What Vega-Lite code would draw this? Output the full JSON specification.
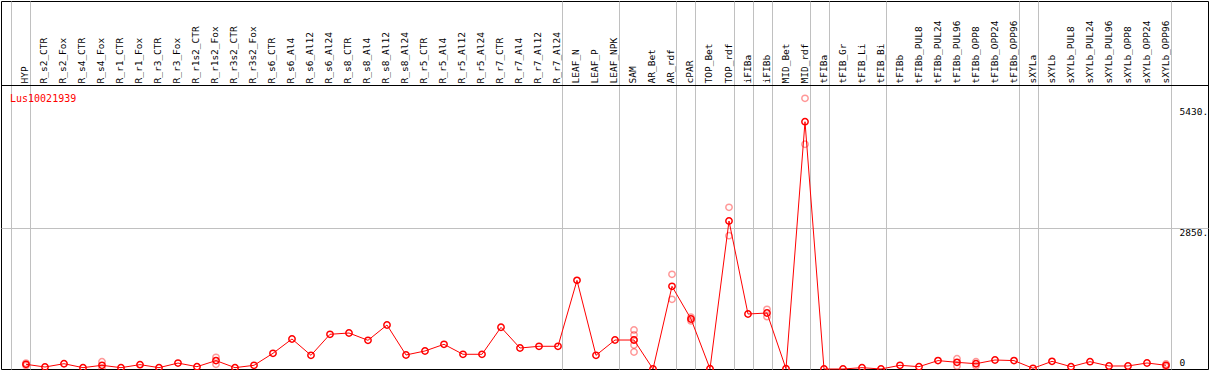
{
  "$schema": "https://vega.github.io/schema/vega-lite/v6.json",
  "width": 1207,
  "height": 368,
  "autosize": "none",
  "padding": {"left": 1, "top": 1, "right": 1, "bottom": 1},
  "background": "white",
  "title": {"text": "Lus10021939", "anchor": "start", "frame": "group", "orient": "top", "offset": -108, "baseline": "middle", "dx": 9, "color": "#ff0000", "font": "DejaVu Sans Mono", "fontSize": 10, "fontWeight": "normal"},
  "config": {"view": {"stroke": "black", "strokeWidth": 1}},
  "datasets": {
    "means": [
      {"sample": "HYP", "value": 95},
      {"sample": "R_s2_CTR", "value": 40},
      {"sample": "R_s2_Fox", "value": 107},
      {"sample": "R_s4_CTR", "value": 27},
      {"sample": "R_s4_Fox", "value": 75},
      {"sample": "R_r1_CTR", "value": 27},
      {"sample": "R_r1_Fox", "value": 88},
      {"sample": "R_r3_CTR", "value": 27},
      {"sample": "R_r3_Fox", "value": 120},
      {"sample": "R_r1s2_CTR", "value": 47},
      {"sample": "R_r1s2_Fox", "value": 170},
      {"sample": "R_r3s2_CTR", "value": 27},
      {"sample": "R_r3s2_Fox", "value": 75},
      {"sample": "R_s6_CTR", "value": 318},
      {"sample": "R_s6_Al4", "value": 608},
      {"sample": "R_s6_Al12", "value": 277},
      {"sample": "R_s6_Al24", "value": 703},
      {"sample": "R_s8_CTR", "value": 729},
      {"sample": "R_s8_Al4", "value": 581},
      {"sample": "R_s8_Al12", "value": 891},
      {"sample": "R_s8_Al24", "value": 284},
      {"sample": "R_r5_CTR", "value": 365},
      {"sample": "R_r5_Al4", "value": 500},
      {"sample": "R_r5_Al12", "value": 298},
      {"sample": "R_r5_Al24", "value": 298},
      {"sample": "R_r7_CTR", "value": 845},
      {"sample": "R_r7_Al4", "value": 425},
      {"sample": "R_r7_Al12", "value": 460},
      {"sample": "R_r7_Al24", "value": 460},
      {"sample": "LEAF_N", "value": 1796},
      {"sample": "LEAF_P", "value": 277},
      {"sample": "LEAF_NPK", "value": 587},
      {"sample": "SAM", "value": 587},
      {"sample": "AR_Bet", "value": 0},
      {"sample": "AR_rdf", "value": 1675},
      {"sample": "cPAR", "value": 1013},
      {"sample": "TOP_Bet", "value": 5},
      {"sample": "TOP_rdf", "value": 2998},
      {"sample": "iFIBa", "value": 1114},
      {"sample": "iFIBb", "value": 1134},
      {"sample": "MID_Bet", "value": 5},
      {"sample": "MID_rdf", "value": 5009},
      {"sample": "tFIBa", "value": 0},
      {"sample": "tFIB_Gr", "value": 0},
      {"sample": "tFIB_Li", "value": 27},
      {"sample": "tFIB_Bi", "value": 0},
      {"sample": "tFIBb", "value": 75},
      {"sample": "tFIBb_PUL8", "value": 47},
      {"sample": "tFIBb_PUL24", "value": 170},
      {"sample": "tFIBb_PUL96", "value": 135},
      {"sample": "tFIBb_OPP8", "value": 107},
      {"sample": "tFIBb_OPP24", "value": 182},
      {"sample": "tFIBb_OPP96", "value": 170},
      {"sample": "sXYLa", "value": 14},
      {"sample": "sXYLb", "value": 155},
      {"sample": "sXYLb_PUL8", "value": 47},
      {"sample": "sXYLb_PUL24", "value": 148},
      {"sample": "sXYLb_PUL96", "value": 61},
      {"sample": "sXYLb_OPP8", "value": 61},
      {"sample": "sXYLb_OPP24", "value": 122},
      {"sample": "sXYLb_OPP96", "value": 75}
    ],
    "reps": [
      {"sample": "HYP", "value": 120},
      {"sample": "HYP", "value": 70},
      {"sample": "R_s4_Fox", "value": 148},
      {"sample": "R_s4_Fox", "value": 2},
      {"sample": "R_r1s2_Fox", "value": 237},
      {"sample": "R_r1s2_Fox", "value": 95},
      {"sample": "SAM", "value": 790},
      {"sample": "SAM", "value": 689},
      {"sample": "SAM", "value": 587},
      {"sample": "SAM", "value": 486},
      {"sample": "SAM", "value": 344},
      {"sample": "AR_rdf", "value": 1918},
      {"sample": "AR_rdf", "value": 1412},
      {"sample": "cPAR", "value": 1050},
      {"sample": "cPAR", "value": 975},
      {"sample": "TOP_rdf", "value": 3275},
      {"sample": "TOP_rdf", "value": 2700},
      {"sample": "iFIBb", "value": 1209},
      {"sample": "iFIBb", "value": 1060},
      {"sample": "MID_rdf", "value": 5483},
      {"sample": "MID_rdf", "value": 4552},
      {"sample": "tFIBb_PUL96", "value": 209},
      {"sample": "tFIBb_PUL96", "value": 61},
      {"sample": "tFIBb_OPP8", "value": 148},
      {"sample": "tFIBb_OPP8", "value": 66},
      {"sample": "sXYLb_OPP96", "value": 101},
      {"sample": "sXYLb_OPP96", "value": 49}
    ]
  },
  "encoding": {
    "x": {
      "field": "sample",
      "type": "ordinal",
      "sort": ["HYP","R_s2_CTR","R_s2_Fox","R_s4_CTR","R_s4_Fox","R_r1_CTR","R_r1_Fox","R_r3_CTR","R_r3_Fox","R_r1s2_CTR","R_r1s2_Fox","R_r3s2_CTR","R_r3s2_Fox","R_s6_CTR","R_s6_Al4","R_s6_Al12","R_s6_Al24","R_s8_CTR","R_s8_Al4","R_s8_Al12","R_s8_Al24","R_r5_CTR","R_r5_Al4","R_r5_Al12","R_r5_Al24","R_r7_CTR","R_r7_Al4","R_r7_Al12","R_r7_Al24","LEAF_N","LEAF_P","LEAF_NPK","SAM","AR_Bet","AR_rdf","cPAR","TOP_Bet","TOP_rdf","iFIBa","iFIBb","MID_Bet","MID_rdf","tFIBa","tFIB_Gr","tFIB_Li","tFIB_Bi","tFIBb","tFIBb_PUL8","tFIBb_PUL24","tFIBb_PUL96","tFIBb_OPP8","tFIBb_OPP24","tFIBb_OPP96","sXYLa","sXYLb","sXYLb_PUL8","sXYLb_PUL24","sXYLb_PUL96","sXYLb_OPP8","sXYLb_OPP24","sXYLb_OPP96"],
      "scale": {
        "type": "point",
        "padding": 0.263,
        "align": 0.6,
        "domain": [" ","HYP","R_s2_CTR","R_s2_Fox","R_s4_CTR","R_s4_Fox","R_r1_CTR","R_r1_Fox","R_r3_CTR","R_r3_Fox","R_r1s2_CTR","R_r1s2_Fox","R_r3s2_CTR","R_r3s2_Fox","R_s6_CTR","R_s6_Al4","R_s6_Al12","R_s6_Al24","R_s8_CTR","R_s8_Al4","R_s8_Al12","R_s8_Al24","R_r5_CTR","R_r5_Al4","R_r5_Al12","R_r5_Al24","R_r7_CTR","R_r7_Al4","R_r7_Al12","R_r7_Al24","LEAF_N","LEAF_P","LEAF_NPK","SAM","AR_Bet","AR_rdf","cPAR","TOP_Bet","TOP_rdf","iFIBa","iFIBb","MID_Bet","MID_rdf","tFIBa","tFIB_Gr","tFIB_Li","tFIB_Bi","tFIBb","tFIBb_PUL8","tFIBb_PUL24","tFIBb_PUL96","tFIBb_OPP8","tFIBb_OPP24","tFIBb_OPP96","sXYLa","sXYLb","sXYLb_PUL8","sXYLb_PUL24","sXYLb_PUL96","sXYLb_OPP8","sXYLb_OPP24","sXYLb_OPP96","  ","   "]
      },
      "axis": {
        "orient": "top",
        "offset": -84,
        "title": null,
        "labelAngle": -90,
        "labelAlign": "left",
        "labelBaseline": "middle",
        "labelPadding": 2,
        "labelFont": "DejaVu Sans Mono",
        "labelFontSize": 9.5,
        "labelColor": "black",
        "labelOffset": -5.5,
        "labelOverlap": false,
        "labelBound": false,
        "labelFlush": false,
        "tickOffset": 4.5,
        "ticks": false,
        "tickSize": 0,
        "domain": true,
        "domainColor": "black",
        "domainWidth": 1,
        "grid": true,
        "gridColor": "#c0c0c0",
        "gridWidth": 1,
        "gridOpacity": {"condition": {"test": "indexof([' ','HYP','R_r7_Al24','LEAF_NPK','AR_rdf','cPAR','TOP_rdf','iFIBa','iFIBb','MID_rdf','tFIBa','tFIB_Bi','tFIBb_OPP96','sXYLa','sXYLb_OPP96'], datum.value) >= 0", "value": 1}, "value": 0}
      }
    }
  },
  "layer": [
    {
      "data": {"name": "means"},
      "mark": {"type": "line", "color": "#ff0000", "strokeWidth": 1},
      "encoding": {
        "y": {
          "field": "value",
          "type": "quantitative",
          "scale": {"domain": [0, 7454], "nice": false, "zero": true},
          "axis": {
            "orient": "right",
            "values": [0, 2850, 5430],
            "title": null,
            "domain": false,
            "ticks": false,
            "tickSize": 0,
            "labelPadding": -29,
            "labelAlign": "left",
            "labelBaseline": "top",
            "labelOffset": {"condition": [{"test": "datum.value === 5430", "value": 5.5}, {"test": "datum.value === 0", "value": -11.5}], "value": -0.5},
            "labelExpr": "datum.value === 0 ? '0' : datum.value + '.'",
            "labelFont": "DejaVu Sans Mono",
            "labelFontSize": 9.5,
            "labelColor": "black",
            "labelBound": false,
            "labelFlush": false,
            "labelOverlap": false,
            "grid": true,
            "gridColor": "#c0c0c0",
            "gridWidth": 1,
            "gridOpacity": {"condition": {"test": "datum.value === 2850", "value": 1}, "value": 0}
          }
        }
      }
    },
    {
      "data": {"name": "reps"},
      "mark": {"type": "point", "shape": "circle", "filled": false, "color": "#ff0000", "opacity": 0.4, "size": 40, "strokeWidth": 1.5},
      "encoding": {"y": {"field": "value", "type": "quantitative"}}
    },
    {
      "data": {"name": "means"},
      "mark": {"type": "point", "shape": "circle", "filled": false, "color": "#ff0000", "opacity": 1, "size": 40, "strokeWidth": 1.5},
      "encoding": {"y": {"field": "value", "type": "quantitative"}}
    }
  ]
}
